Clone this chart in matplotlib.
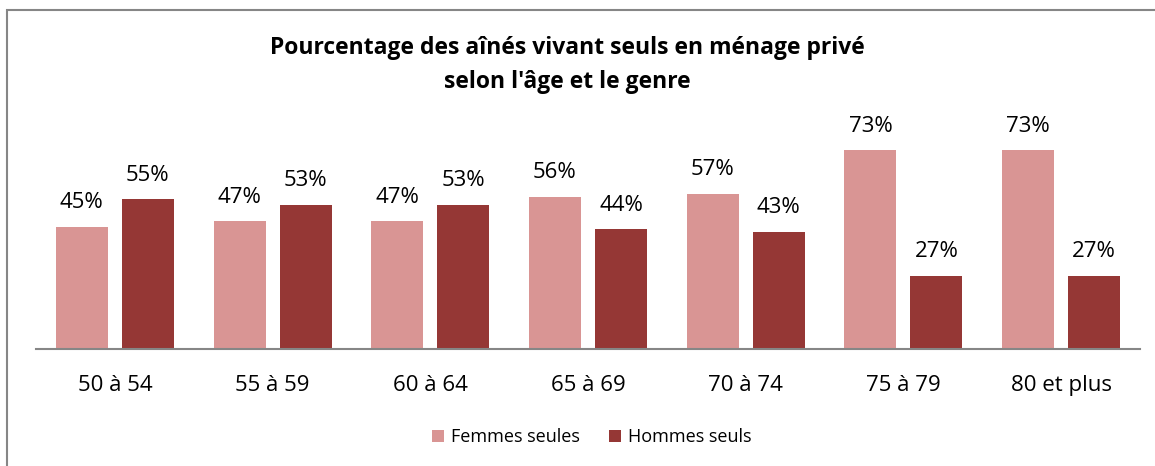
import matplotlib
matplotlib.use("Agg")
import matplotlib.pyplot as plt
import numpy as np
from matplotlib.patches import Rectangle

categories = ["50 à 54", "55 à 59", "60 à 64", "65 à 69", "70 à 74", "75 à 79", "80 et plus"]
femmes = [45, 47, 47, 56, 57, 73, 73]
hommes = [55, 53, 53, 44, 43, 27, 27]
series_names = ["Femmes seules", "Hommes seuls"]
title = "Pourcentage des aînés vivant seuls en ménage privé\nselon l'âge et le genre"

plt.rcParams['font.family'] = ['Open Sans', 'DejaVu Sans']

W, H = 1155, 466
fig = plt.figure(figsize=(W / 100, H / 100), dpi=100)

# border (right and bottom edges fall outside the picture)
fig.patches.append(Rectangle((6.5 / W, -0.1), 1.2, (H - 9.5) / H + 0.1, transform=fig.transFigure,
                             fill=False, edgecolor="#868686", linewidth=1.5))

ax_left, ax_right = 36, 1140
ax_bottom = 349
ymax = 80
px_per = 2.72
ax_top = ax_bottom - ymax * px_per
ax = fig.add_axes([ax_left / W, 1 - ax_bottom / H, (ax_right - ax_left) / W, (ax_bottom - ax_top) / H])

x = np.arange(len(categories))
bw = 52 / 157.7
off = 33 / 157.7
c_f = "#D99594"
c_h = "#953735"
b1 = ax.bar(x - off, femmes, bw, color=c_f, label=series_names[0])
b2 = ax.bar(x + off, hommes, bw, color=c_h, label=series_names[1])

for xs, vals in ((x - off, femmes), (x + off, hommes)):
    for xi, v in zip(xs, vals):
        ax.text(xi, v + 5.0, f"{v}%", ha="center", va="bottom", fontsize=16, color="#000000")

ax.set_xlim(-0.5, len(categories) - 0.5)
ax.set_ylim(0, ymax)
for s in ["top", "right", "left"]:
    ax.spines[s].set_visible(False)
ax.spines["bottom"].set_color("#868686")
ax.spines["bottom"].set_linewidth(1.5)
ax.set_yticks([])
ax.set_xticks(x)
ax.set_xticklabels(categories, fontsize=16)
ax.tick_params(axis="x", length=0, pad=19)
ax.patch.set_visible(False)

fig.text(567 / W, 1 - 65 / H, title, ha="center", va="center", fontsize=16.5,
         fontweight="bold", linespacing=1.5)

fig.legend(handles=[b1, b2], labels=series_names, loc="center", bbox_to_anchor=(592 / W, 1 - 437 / H),
           ncol=2, frameon=False, fontsize=13, handlelength=0.65, handleheight=0.65,
           columnspacing=1.6, handletextpad=0.4)

fig.savefig("out.png", dpi=100)
